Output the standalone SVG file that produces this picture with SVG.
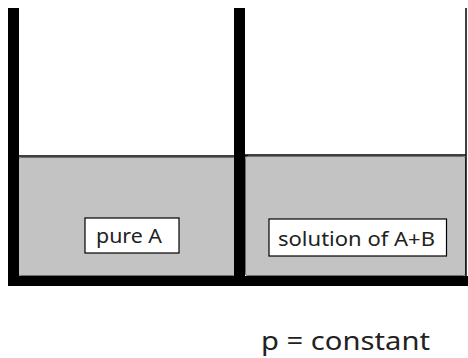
<svg xmlns="http://www.w3.org/2000/svg" width="468" height="358" viewBox="0 0 468 358">
<style>
.liq{fill:#c3c3c3;stroke:#6e6e6e;stroke-width:1}
.wall{fill:#000}
.lbl{fill:#fff;stroke:#000;stroke-width:1.2}
.t{font-family:"Noto Sans","Open Sans","DejaVu Sans",sans-serif;fill:#222}
</style>
<rect width="468" height="358" fill="#fff"/>
<g id="left-compartment">
<rect class="liq" x="18.5" y="157.5" width="217" height="118" rx="2"/>
<line x1="19" y1="156" x2="248" y2="156" stroke="#000" stroke-width="1.5"/>
</g>
<g id="right-compartment">
<rect class="liq" x="245.5" y="156.5" width="220" height="119" rx="2"/>
<line x1="245" y1="155" x2="466" y2="155" stroke="#000" stroke-width="1.5"/>
<line x1="466" y1="8" x2="466" y2="276" stroke="#000" stroke-width="1.5"/>
</g>
<g id="walls">
<rect class="wall" x="8" y="8" width="11" height="278"/>
<rect class="wall" x="234" y="8" width="11" height="268"/>
<rect class="wall" x="8" y="276" width="460" height="10"/>
</g>
<g id="pure-A">
<rect class="lbl" x="85" y="218" width="94" height="35"/>
<text class="t" x="96" y="243" font-size="20" textLength="66" lengthAdjust="spacingAndGlyphs">pure A</text>
</g>
<g id="solution-AB">
<rect class="lbl" x="269" y="219" width="177.5" height="37"/>
<text class="t" x="278" y="246" font-size="20" textLength="157" lengthAdjust="spacingAndGlyphs">solution of A+B</text>
</g>
<g id="caption">
<text class="t" x="261" y="350" font-size="25" textLength="169" lengthAdjust="spacingAndGlyphs">p = constant</text>
</g>
</svg>
